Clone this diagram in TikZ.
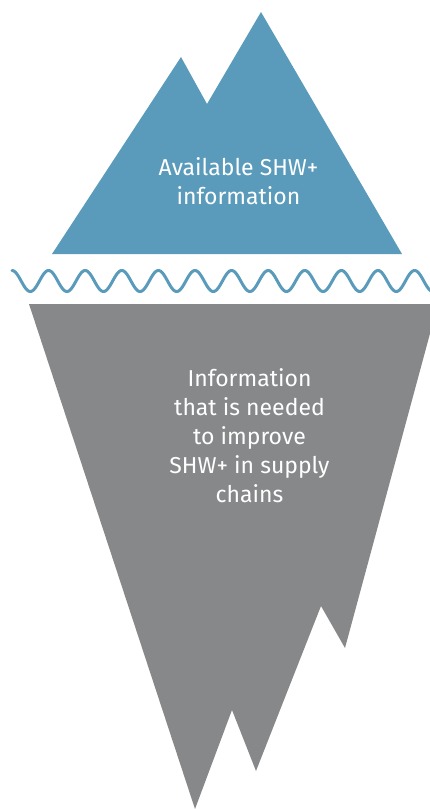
\documentclass[tikz,border=0pt]{standalone}
\usepackage{fontspec}
\setmainfont{Fira Sans}
\definecolor{iceblue}{HTML}{5A9BBB}
\definecolor{icegray}{HTML}{87888A}
\begin{document}
\begin{tikzpicture}[x=1pt,y=-1pt,
  label text/.style={text=white,align=center,font=\fontsize{23}{29}\selectfont,inner sep=0pt,anchor=base}]
\useasboundingbox (0,0) rectangle (430,809);
\clip (0,0) rectangle (430,809);
% top part
\fill[iceblue] (52,254) -- (181,57) -- (207,104) -- (261,12) -- (402,254) -- cycle;
% wave
\draw[iceblue,line width=3pt,line cap=round]
  plot[domain=12:440,samples=500] (\x,{281-10.5*cos((\x-12)*9.836)});
% bottom part
\fill[icegray] (29,304) -- (438,304) -- (345,648) -- (321,606) -- (256,771) -- (232,710) -- (195,809) -- cycle;
% text (base anchor = baseline of the last line)
\node[label text] (top) at (238.5,204) {Available SHW+\\information};
\node[label text] (bottom) at (249.5,502) {Information\\that is needed\\to improve\\SHW+ in supply\\chains};
\end{tikzpicture}
\end{document}
